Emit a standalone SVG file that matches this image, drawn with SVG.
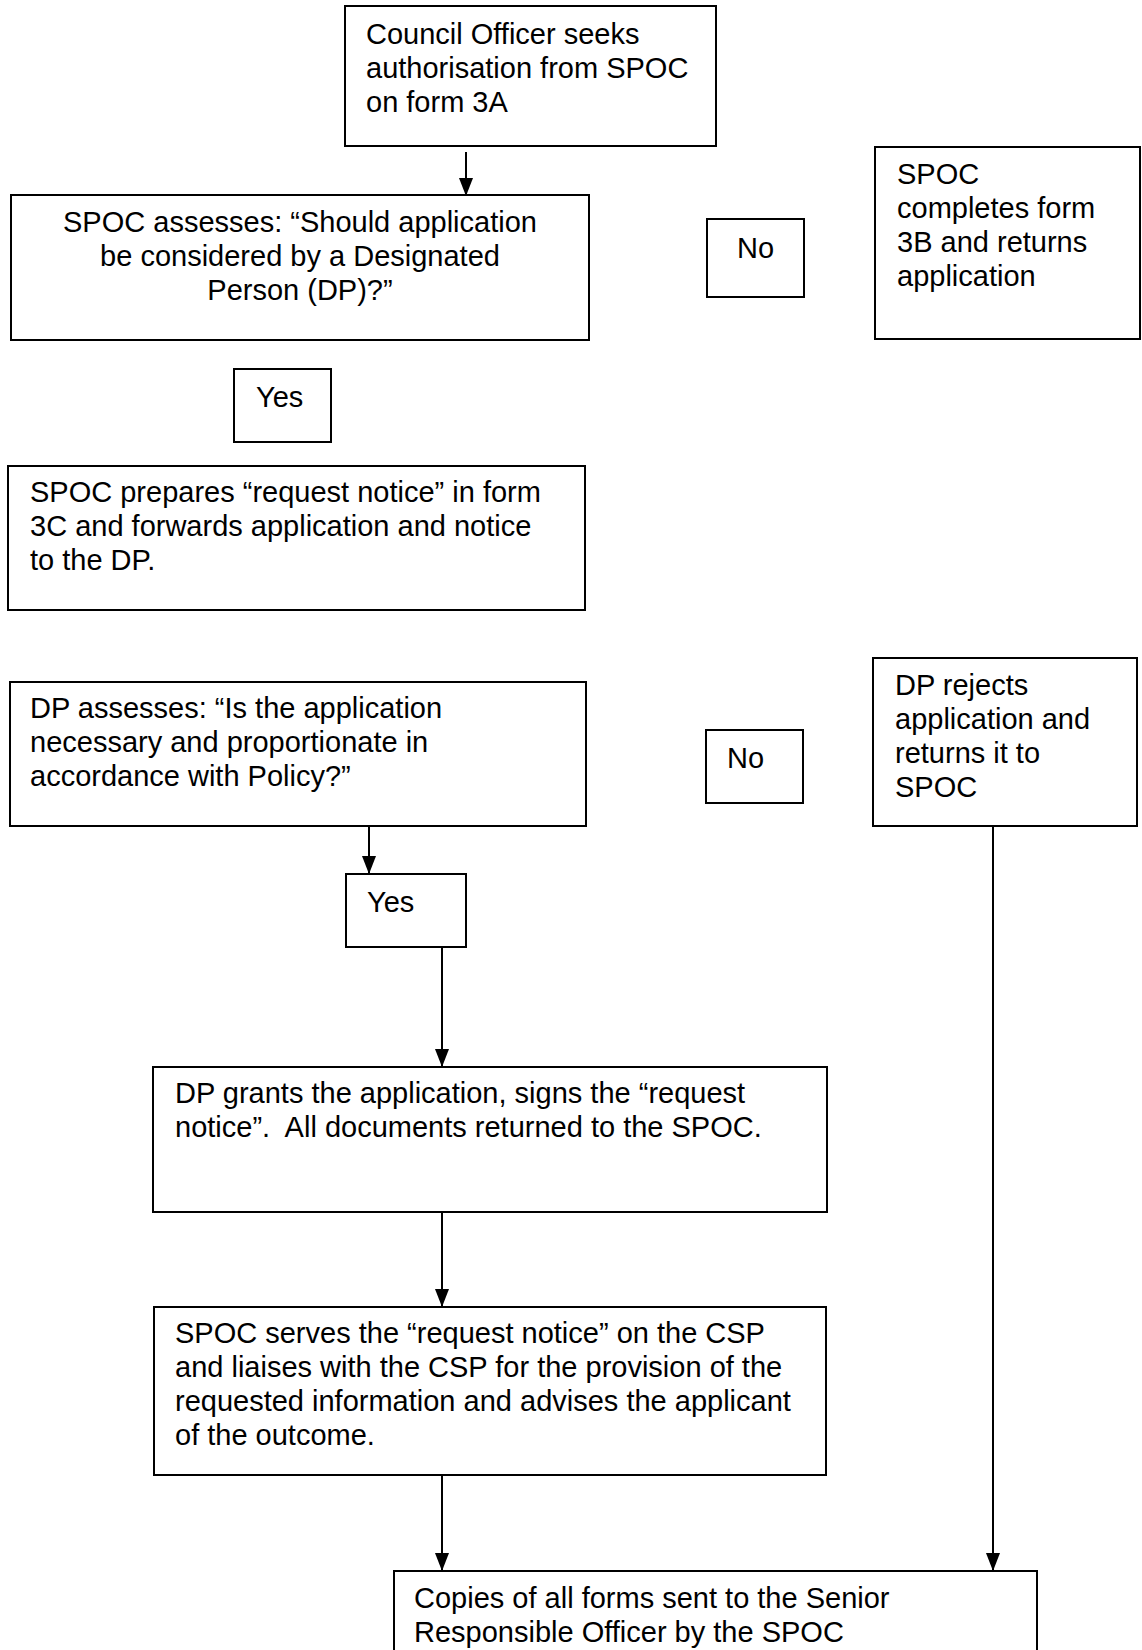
<svg xmlns="http://www.w3.org/2000/svg" width="1142" height="1650" viewBox="0 0 1142 1650">
<style>
.box{fill:#fff;stroke:#000;stroke-width:2}
.t{font-family:"Liberation Sans",Arial,sans-serif;font-size:29px;fill:#000}
.c{text-anchor:middle}
.edge{stroke:#000;stroke-width:2;fill:none;marker-end:url(#arr)}
</style>
<defs>
<marker id="arr" markerUnits="userSpaceOnUse" markerWidth="18" markerHeight="14" viewBox="0 0 18 14" refX="18" refY="7" orient="auto">
<path d="M0,0 L18,7 L0,14 Z" fill="#000"/>
</marker>
</defs>
<rect width="1142" height="1650" fill="#fff"/>
<g id="connectors">
<path class="edge" d="M466,152 V196"/>
<path class="edge" d="M369,826 V874"/>
<path class="edge" d="M442,947 V1067"/>
<path class="edge" d="M442,1212 V1307"/>
<path class="edge" d="M442,1475 V1571"/>
<path class="edge" d="M993,826 V1571"/>
</g>
<g id="n1"><rect class="box" x="345" y="6" width="371" height="140"/>
<text class="t" x="366" y="44">Council Officer seeks</text>
<text class="t" x="366" y="78">authorisation from SPOC</text>
<text class="t" x="366" y="112">on form 3A</text></g>
<g id="n2"><rect class="box" x="11" y="195" width="578" height="145"/>
<text class="t c" x="300" y="232">SPOC assesses: “Should application</text>
<text class="t c" x="300" y="266">be considered by a Designated</text>
<text class="t c" x="300" y="300">Person (DP)?”</text></g>
<g id="n3"><rect class="box" x="707" y="219" width="97" height="78"/>
<text class="t" x="737" y="258">No</text></g>
<g id="n4"><rect class="box" x="875" y="147" width="265" height="192"/>
<text class="t" x="897" y="184">SPOC</text>
<text class="t" x="897" y="218">completes form</text>
<text class="t" x="897" y="252">3B and returns</text>
<text class="t" x="897" y="286">application</text></g>
<g id="n5"><rect class="box" x="234" y="369" width="97" height="73"/>
<text class="t" x="256" y="407">Yes</text></g>
<g id="n6"><rect class="box" x="8" y="466" width="577" height="144"/>
<text class="t" x="30" y="502">SPOC prepares “request notice” in form</text>
<text class="t" x="30" y="536">3C and forwards application and notice</text>
<text class="t" x="30" y="570">to the DP.</text></g>
<g id="n7"><rect class="box" x="10" y="682" width="576" height="144"/>
<text class="t" x="30" y="718">DP assesses: “Is the application</text>
<text class="t" x="30" y="752">necessary and proportionate in</text>
<text class="t" x="30" y="786">accordance with Policy?”</text></g>
<g id="n8"><rect class="box" x="706" y="730" width="97" height="73"/>
<text class="t" x="727" y="768">No</text></g>
<g id="n9"><rect class="box" x="873" y="658" width="264" height="168"/>
<text class="t" x="895" y="695">DP rejects</text>
<text class="t" x="895" y="729">application and</text>
<text class="t" x="895" y="763">returns it to</text>
<text class="t" x="895" y="797">SPOC</text></g>
<g id="n10"><rect class="box" x="346" y="874" width="120" height="73"/>
<text class="t" x="367" y="912">Yes</text></g>
<g id="n11"><rect class="box" x="153" y="1067" width="674" height="145"/>
<text class="t" x="175" y="1103">DP grants the application, signs the “request</text>
<text class="t" x="175" y="1137" xml:space="preserve">notice”.  All documents returned to the SPOC.</text></g>
<g id="n12"><rect class="box" x="154" y="1307" width="672" height="168"/>
<text class="t" x="175" y="1343">SPOC serves the “request notice” on the CSP</text>
<text class="t" x="175" y="1377">and liaises with the CSP for the provision of the</text>
<text class="t" x="175" y="1411">requested information and advises the applicant</text>
<text class="t" x="175" y="1445">of the outcome.</text></g>
<g id="n13"><rect class="box" x="394" y="1571" width="643" height="100"/>
<text class="t" x="414" y="1608">Copies of all forms sent to the Senior</text>
<text class="t" x="414" y="1642">Responsible Officer by the SPOC</text></g>
</svg>
